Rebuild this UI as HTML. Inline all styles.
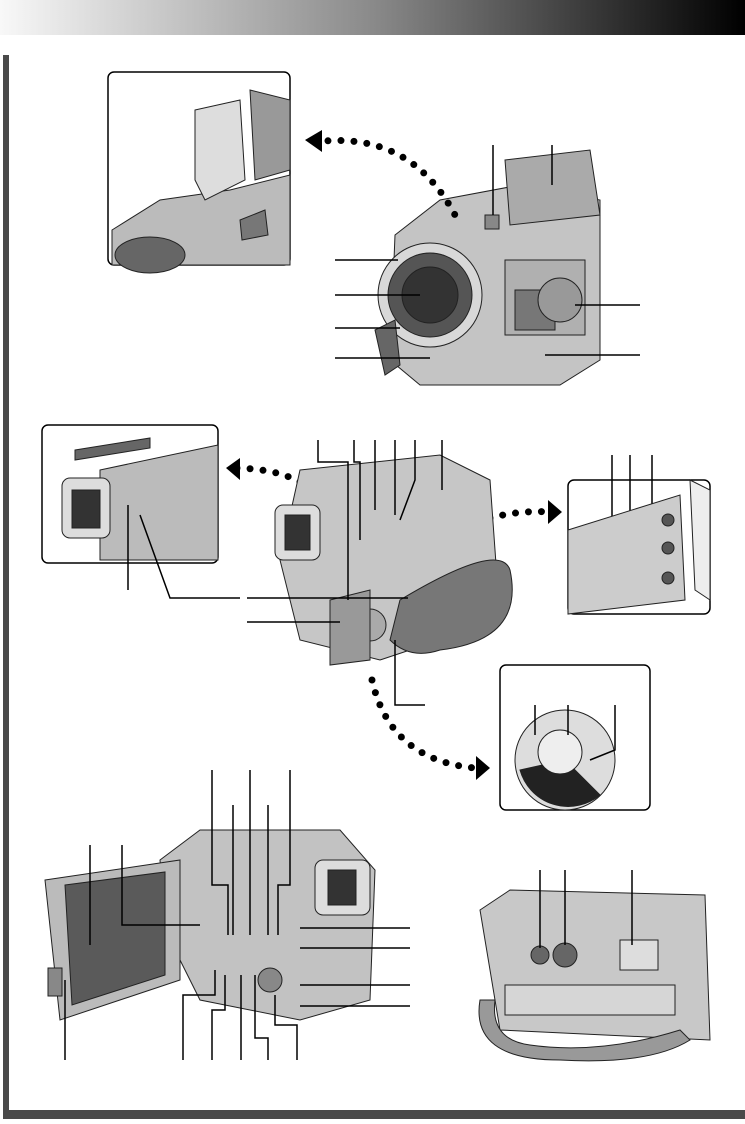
<!DOCTYPE html>
<html><head><style>
html,body{margin:0;padding:0;background:#fff;}
body{width:745px;height:1119px;position:relative;overflow:hidden;font-family:"Liberation Sans",sans-serif;}
</style></head><body>
<svg width="745" height="1119" viewBox="0 0 745 1119" xmlns="http://www.w3.org/2000/svg">
<defs>
<linearGradient id="tg" x1="0" x2="1" y1="0" y2="0">
<stop offset="0" stop-color="#f8f8f8"/><stop offset="0.5" stop-color="#8a8a8a"/><stop offset="1" stop-color="#000"/>
</linearGradient>
</defs>
<rect x="0" y="0" width="745" height="35" fill="url(#tg)"/>
<rect x="3" y="55" width="6" height="1064" fill="#4a4a4a"/>
<rect x="3" y="1110" width="742" height="9" fill="#4a4a4a"/>

<g stroke="#000" stroke-width="1.5" fill="none">
<!-- insets -->
<rect x="108" y="72" width="182" height="193" rx="6"/>
<rect x="42" y="425" width="176" height="138" rx="6"/>
<rect x="568" y="480" width="142" height="134" rx="6"/>
<rect x="500" y="665" width="150" height="145" rx="6"/>
</g>

<!-- inset 1 content -->
<g stroke="#222" stroke-width="1">
<path d="M112 230 L160 200 L230 190 L290 175 L290 265 L112 265Z" fill="#bbb"/>
<ellipse cx="150" cy="255" rx="35" ry="18" fill="#666"/>
<path d="M195 110 L240 100 L245 180 L205 200 L195 180Z" fill="#ddd"/>
<path d="M250 90 L290 100 L290 170 L255 180Z" fill="#999"/>
<path d="M240 220 L265 210 L268 235 L242 240Z" fill="#777"/>
</g>
<!-- camera 1 -->
<g stroke="#222" stroke-width="1">
<path d="M395 235 L440 200 L520 185 L600 200 L600 360 L560 385 L420 385 L390 360Z" fill="#c4c4c4"/>
<path d="M505 160 L590 150 L600 215 L510 225Z" fill="#aaa"/>
<circle cx="430" cy="295" r="52" fill="#d8d8d8"/>
<circle cx="430" cy="295" r="42" fill="#555"/>
<circle cx="430" cy="295" r="28" fill="#333"/>
<rect x="505" y="260" width="80" height="75" fill="#b0b0b0"/>
<rect x="515" y="290" width="40" height="40" fill="#777"/>
<circle cx="560" cy="300" r="22" fill="#999"/>
<path d="M375 330 L395 320 L400 365 L385 375Z" fill="#666"/>
<rect x="485" y="215" width="14" height="14" fill="#888"/>
</g>
<g stroke="#000" stroke-width="1.5" fill="none">
<line x1="493" y1="145" x2="493" y2="215"/><line x1="552" y1="145" x2="552" y2="185"/>
<line x1="335" y1="260" x2="398" y2="260"/><line x1="335" y1="295" x2="420" y2="295"/>
<line x1="335" y1="328" x2="400" y2="328"/><line x1="335" y1="358" x2="430" y2="358"/>
<line x1="575" y1="305" x2="640" y2="305"/><line x1="545" y1="355" x2="640" y2="355"/>
</g>
<!-- dotted arcs -->
<g stroke="#000" stroke-width="7" stroke-linecap="round" stroke-dasharray="0 13" fill="none">
<path d="M315 142 Q410 130 455 215"/>
<path d="M237 468 Q300 470 320 500"/>
<path d="M490 518 Q520 510 552 512"/>
<path d="M372 680 Q390 760 475 768"/>
</g>
<g fill="#000">
<path d="M305 140 L322 130 L322 152Z"/>
<path d="M226 468 L240 458 L240 480Z"/>
<path d="M562 512 L548 500 L548 524Z"/>
<path d="M490 768 L476 756 L476 780Z"/>
</g>
<!-- inset 2 -->
<g stroke="#222" stroke-width="1">
<path d="M100 470 L218 445 L218 560 L100 560Z" fill="#bbb"/>
<rect x="62" y="478" width="48" height="60" rx="8" fill="#ddd"/>
<rect x="72" y="490" width="28" height="38" fill="#333"/>
<path d="M75 450 L150 438 L150 448 L75 460Z" fill="#666"/>
</g>
<line x1="128" y1="505" x2="128" y2="590" stroke="#000" stroke-width="1.5"/>
<path d="M140 515 L170 598 L240 598" stroke="#000" stroke-width="1.5" fill="none"/>
<!-- middle camera -->
<g stroke="#222" stroke-width="1">
<path d="M300 470 L440 455 L490 480 L500 620 L380 660 L300 640 L280 560Z" fill="#c6c6c6"/>
<rect x="275" y="505" width="45" height="55" rx="8" fill="#ddd"/>
<rect x="285" y="515" width="25" height="35" fill="#333"/>
<path d="M400 600 Q500 540 510 570 Q525 640 440 650 Q410 660 390 640Z" fill="#777"/>
<circle cx="370" cy="625" r="16" fill="#aaa"/>
<path d="M330 600 L370 590 L370 660 L330 665Z" fill="#999"/>
</g>
<g stroke="#000" stroke-width="1.5" fill="none">
<path d="M318 440 L318 462 L348 462 L348 600"/>
<path d="M354 440 L354 462 L360 462 L360 540"/>
<line x1="375" y1="440" x2="375" y2="510"/><line x1="395" y1="440" x2="395" y2="515"/>
<path d="M415 440 L415 480 L400 520"/><line x1="442" y1="440" x2="442" y2="490"/>
<line x1="247" y1="598" x2="408" y2="598"/><line x1="247" y1="622" x2="340" y2="622"/>
<path d="M395 640 L395 705 L425 705"/>
<line x1="612" y1="455" x2="612" y2="578"/><line x1="630" y1="455" x2="630" y2="545"/><line x1="652" y1="455" x2="652" y2="515"/>
</g>
<!-- inset 3 -->
<g stroke="#222" stroke-width="1">
<path d="M568 530 L680 495 L685 600 L568 614Z" fill="#ccc"/>
<circle cx="668" cy="520" r="6" fill="#555"/><circle cx="668" cy="548" r="6" fill="#555"/><circle cx="668" cy="578" r="6" fill="#555"/>
<path d="M690 480 L710 490 L710 600 L695 590Z" fill="#eee"/>
</g>
<!-- inset 4 dial -->
<g stroke="#222" stroke-width="1">
<circle cx="565" cy="760" r="50" fill="#ddd"/>
<path d="M520 770 A50 50 0 0 0 600 795 L565 760Z" fill="#222"/>
<circle cx="560" cy="752" r="22" fill="#eee"/>
</g>
<g stroke="#000" stroke-width="1.5" fill="none">
<line x1="535" y1="705" x2="535" y2="735"/><line x1="568" y1="705" x2="568" y2="735"/><path d="M615 705 L615 750 L590 760"/>
</g>
<!-- bottom left camera -->
<g stroke="#222" stroke-width="1">
<path d="M160 860 L200 830 L340 830 L375 870 L370 1000 L300 1020 L200 1000 L165 930Z" fill="#c2c2c2"/>
<path d="M45 880 L180 860 L180 980 L60 1020Z" fill="#bbb"/>
<path d="M65 885 L165 872 L165 975 L72 1005Z" fill="#5a5a5a"/>
<rect x="48" y="968" width="14" height="28" fill="#888"/>
<rect x="315" y="860" width="55" height="55" rx="8" fill="#ddd"/>
<rect x="328" y="870" width="28" height="35" fill="#333"/>
<circle cx="270" cy="980" r="12" fill="#888"/>
</g>
<g stroke="#000" stroke-width="1.5" fill="none">
<line x1="90" y1="845" x2="90" y2="945"/><path d="M122 845 L122 925 L200 925"/>
<path d="M212 770 L212 885 L228 885 L228 935"/><line x1="233" y1="805" x2="233" y2="935"/>
<line x1="250" y1="770" x2="250" y2="935"/><line x1="268" y1="805" x2="268" y2="935"/>
<path d="M290 770 L290 885 L278 885 L278 935"/>
<line x1="300" y1="928" x2="410" y2="928"/><line x1="300" y1="948" x2="410" y2="948"/>
<line x1="300" y1="985" x2="410" y2="985"/><line x1="300" y1="1006" x2="410" y2="1006"/>
<line x1="65" y1="980" x2="65" y2="1060"/><path d="M183 1060 L183 995 L215 995 L215 970"/>
<path d="M212 1060 L212 1010 L225 1010 L225 975"/><line x1="241" y1="975" x2="241" y2="1060"/>
<path d="M268 1060 L268 1038 L255 1038 L255 975"/><path d="M297 1060 L297 1025 L275 1025 L275 995"/>
</g>
<!-- bottom right camera -->
<g stroke="#222" stroke-width="1">
<path d="M480 910 L510 890 L705 895 L710 1040 L500 1030 Z" fill="#c8c8c8"/>
<path d="M480 1000 Q470 1060 560 1060 Q650 1065 690 1040 L680 1030 Q600 1055 530 1045 Q490 1040 495 1000Z" fill="#999"/>
<circle cx="540" cy="955" r="9" fill="#666"/><circle cx="565" cy="955" r="12" fill="#666"/>
<rect x="620" y="940" width="38" height="30" fill="#ddd"/>
<rect x="505" y="985" width="170" height="30" fill="#d6d6d6"/>
</g>
<g stroke="#000" stroke-width="1.5" fill="none">
<line x1="540" y1="870" x2="540" y2="948"/><line x1="565" y1="870" x2="565" y2="945"/><line x1="632" y1="870" x2="632" y2="945"/>
</g>
</svg>
</body></html>
